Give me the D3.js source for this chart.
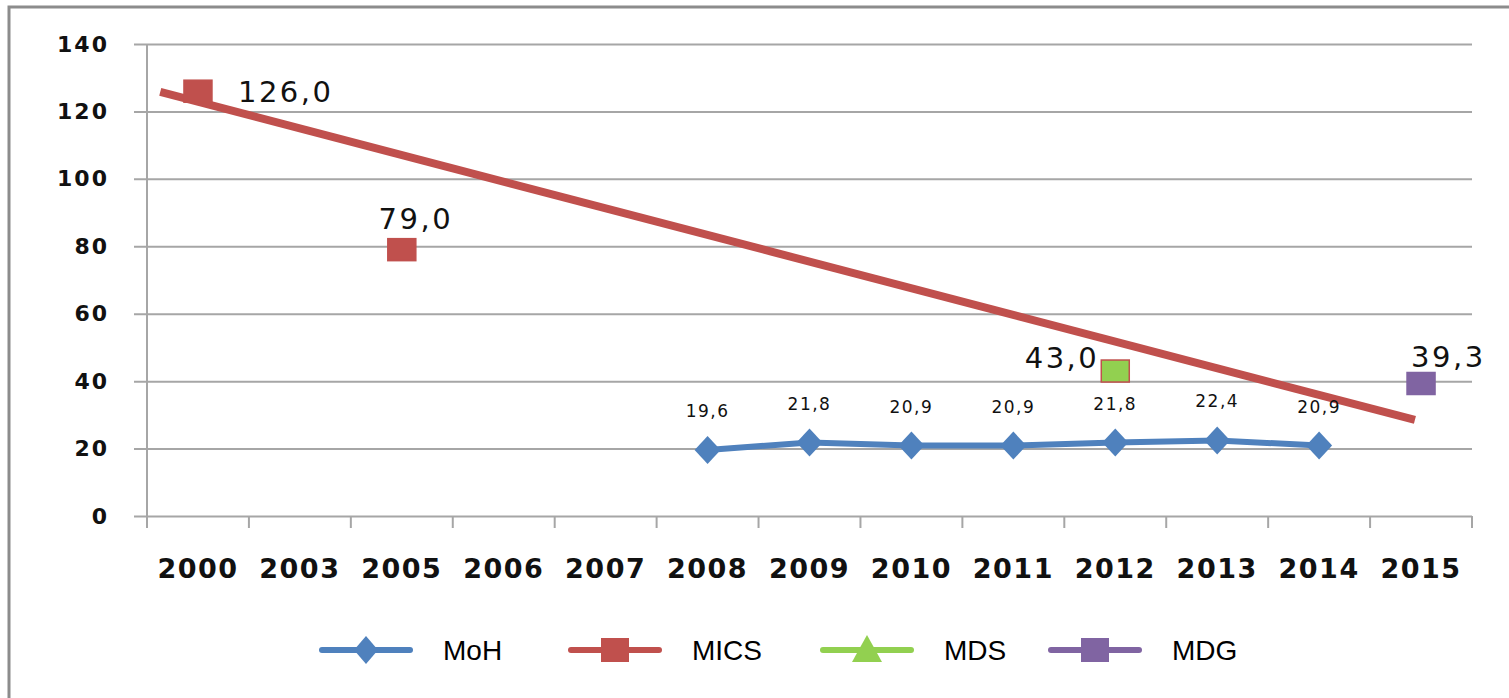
<!DOCTYPE html>
<html>
<head>
  <meta charset="utf-8">
  <title>Chart</title>
  <script src="https://cdn.jsdelivr.net/npm/d3@7"></script>
  <style>
    body { margin: 0; background: #fff; }
    .tick-y { font: bold 22px "DejaVu Sans", Verdana, sans-serif; letter-spacing: 2px; }
    .tick-x { font: bold 27px "DejaVu Sans", Verdana, sans-serif; letter-spacing: 1.5px; }
    .lbl-small { font: 17px "DejaVu Sans", Verdana, sans-serif; letter-spacing: 1.5px; }
    .lbl-big { font: 29px "DejaVu Sans", Verdana, sans-serif; letter-spacing: 2.5px; }
    .legend { font: 28px "Liberation Sans", Arial, sans-serif; }
  </style>
</head>
<body>
<svg width="1509" height="698"></svg>
<script>
  var years = ["2000","2003","2005","2006","2007","2008","2009","2010","2011","2012","2013","2014","2015"];
  var yTicks = [0, 20, 40, 60, 80, 100, 120, 140];

  var mohYears = ["2008","2009","2010","2011","2012","2013","2014"];
  var mohValues = [19.6, 21.8, 20.9, 20.9, 21.8, 22.4, 20.9];

  var micsYears = ["2000","2005"];
  var micsValues = [126.0, 79.0];

  var mdsYears = ["2012"];
  var mdsValues = [43.0];

  var mdgYears = ["2015"];
  var mdgValues = [39.3];

  // trend line ends, in category index units
  var trendIndex = [-0.37, 11.94];
  var trendValues = [125.8, 28.5];

  var legendNames = ["MoH", "MICS", "MDS", "MDG"];
  var colors = {MoH: "#4f81bd", MICS: "#c0504d", MDS: "#92d050", MDG: "#8064a2"};

  var svg = d3.select("svg");

  // outer frame
  svg.append("rect")
      .attr("x", 9).attr("y", 7)
      .attr("width", 1520).attr("height", 720)
      .attr("fill", "none")
      .attr("stroke", "#8c8c8c")
      .attr("stroke-width", 3);

  var pLeft = 147, pRight = 1472, pTop = 44, pBottom = 516;

  var x = d3.scaleBand().domain(years).range([pLeft, pRight]).padding(0);
  var y = d3.scaleLinear().domain([0, 140]).range([pBottom, pTop]);
  var xi = d3.scaleLinear().domain([0, 1]).range([pLeft + x.bandwidth() / 2, pLeft + x.bandwidth() * 1.5]);
  function cx(yr) { return x(yr) + x.bandwidth() / 2; }

  // grid lines + y ticks
  svg.append("g")
      .attr("transform", "translate(" + pLeft + ",0)")
      .call(d3.axisLeft(y).tickValues(yTicks).tickSize(-(pRight - pLeft)).tickSizeOuter(0).tickPadding(38).tickFormat(d3.format("d")))
      .call(function(g) {
        g.select(".domain").remove();
        g.selectAll(".tick line").attr("stroke", "#a6a6a6").attr("stroke-width", 2).attr("x1", -13);
        g.selectAll(".tick text").attr("class", "tick-y").attr("fill", "#111");
      });

  // y axis line
  svg.append("line")
      .attr("x1", pLeft).attr("x2", pLeft)
      .attr("y1", pTop).attr("y2", pBottom + 12)
      .attr("stroke", "#a6a6a6").attr("stroke-width", 2);

  // x axis ticks at band edges
  var edges = years.map(function(d) { return x(d); }).concat([pRight]);
  svg.append("g").selectAll("line").data(edges.slice(1)).enter().append("line")
      .attr("x1", function(d) { return d; }).attr("x2", function(d) { return d; })
      .attr("y1", pBottom).attr("y2", pBottom + 12)
      .attr("stroke", "#a6a6a6").attr("stroke-width", 2);

  svg.append("g").selectAll("text").data(years).enter().append("text")
      .attr("class", "tick-x")
      .attr("x", function(d) { return cx(d); })
      .attr("y", 578)
      .attr("text-anchor", "middle")
      .attr("fill", "#111")
      .text(function(d) { return d; });

  // trend line
  svg.append("line")
      .attr("x1", xi(trendIndex[0])).attr("y1", y(trendValues[0]))
      .attr("x2", xi(trendIndex[1])).attr("y2", y(trendValues[1]))
      .attr("stroke", colors.MICS).attr("stroke-width", 8);

  // MoH line
  var moh = mohYears.map(function(d, i) { return {year: d, v: mohValues[i]}; });
  svg.append("path")
      .datum(moh)
      .attr("fill", "none")
      .attr("stroke", colors.MoH)
      .attr("stroke-width", 6)
      .attr("stroke-linejoin", "round")
      .attr("d", d3.line().x(function(d) { return cx(d.year); }).y(function(d) { return y(d.v); }));

  function diamond(w, h) {
    return "M0," + (-h / 2) + "L" + (w / 2) + ",0L0," + (h / 2) + "L" + (-w / 2) + ",0Z";
  }

  svg.append("g").selectAll("path").data(moh).enter().append("path")
      .attr("transform", function(d) { return "translate(" + cx(d.year) + "," + y(d.v) + ")"; })
      .attr("d", diamond(26, 28))
      .attr("fill", colors.MoH);

  var fmt = function(v) { return d3.format(".1f")(v).replace(".", ","); };

  svg.append("g").selectAll("text").data(moh).enter().append("text")
      .attr("class", "lbl-small")
      .attr("x", function(d) { return cx(d.year); })
      .attr("y", function(d) { return y(d.v) - 33; })
      .attr("text-anchor", "middle")
      .attr("fill", "#111")
      .text(function(d) { return fmt(d.v); });

  // square markers with big labels
  var squares = [];
  micsYears.forEach(function(d, i) { squares.push({year: d, v: micsValues[i], c: colors.MICS, s: colors.MICS}); });
  mdsYears.forEach(function(d, i) { squares.push({year: d, v: mdsValues[i], c: colors.MDS, s: colors.MICS}); });
  mdgYears.forEach(function(d, i) { squares.push({year: d, v: mdgValues[i], c: colors.MDG, s: colors.MDG}); });

  // label placement: dx, dy, anchor
  var place = {
    "2000": [40, 11, "start"],
    "2005": [14, -21, "middle"],
    "2012": [-16, -3, "end"],
    "2015": [-10, -17, "start"]
  };

  svg.append("g").selectAll("rect").data(squares).enter().append("rect")
      .attr("x", function(d) { return cx(d.year) - 14; })
      .attr("y", function(d) { return y(d.v) - 11; })
      .attr("width", 28).attr("height", 22)
      .attr("fill", function(d) { return d.c; })
      .attr("stroke", function(d) { return d.s; })
      .attr("stroke-width", 1.5);

  svg.append("g").selectAll("text").data(squares).enter().append("text")
      .attr("class", "lbl-big")
      .attr("x", function(d) { return cx(d.year) + place[d.year][0]; })
      .attr("y", function(d) { return y(d.v) + place[d.year][1]; })
      .attr("text-anchor", function(d) { return place[d.year][2]; })
      .attr("fill", "#111")
      .text(function(d) { return fmt(d.v); });

  // legend
  var legX = [322, 571, 823, 1051];
  var lg = svg.append("g").selectAll("g").data(legendNames).enter().append("g")
      .attr("transform", function(d, i) { return "translate(" + legX[i] + ",650)"; });

  lg.append("line")
      .attr("x1", 0).attr("x2", 88)
      .attr("stroke", function(d) { return colors[d]; })
      .attr("stroke-width", 6)
      .attr("stroke-linecap", "round");

  lg.append("path")
      .attr("transform", "translate(44,0)")
      .attr("d", function(d) {
        if (d === "MoH") return diamond(24, 28);
        if (d === "MDS") return "M0,-15L15,12L-15,12Z";
        return "M-14,-12H14V12H-14Z";
      })
      .attr("fill", function(d) { return colors[d]; });

  lg.append("text")
      .attr("class", "legend")
      .attr("x", 121)
      .attr("y", 10)
      .attr("fill", "#000")
      .text(function(d) { return d; });
</script>
</body>
</html>
